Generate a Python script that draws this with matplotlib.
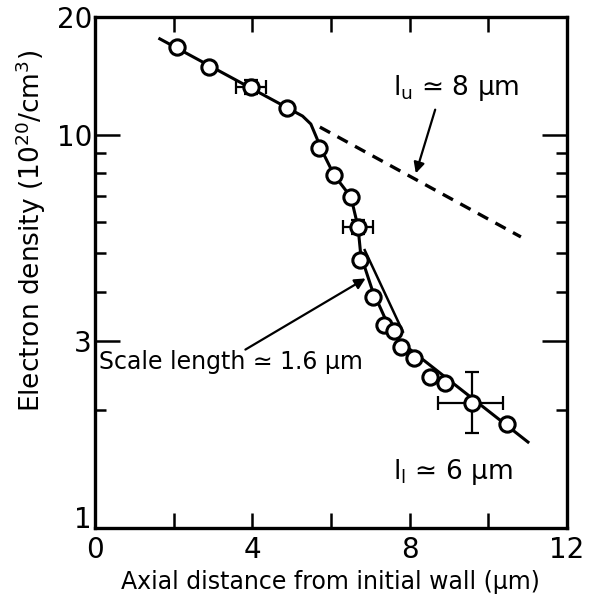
import matplotlib
matplotlib.use("Agg")
import matplotlib.pyplot as plt
from matplotlib.ticker import FixedLocator, NullFormatter

# ---- data ----
pts_x = [2.08, 2.90, 3.97, 4.88, 5.70, 6.08, 6.51, 6.69, 6.74, 7.07, 7.35, 7.60,
         7.78, 8.11, 8.52, 8.90, 9.59, 10.48]
pts_y = [16.8, 14.9, 13.3, 11.7, 9.28, 7.92, 6.96, 5.84, 4.81, 3.87, 3.29, 3.17,
         2.89, 2.71, 2.42, 2.34, 2.08, 1.84]

err_x = [3.97, 6.69, 9.59]
err_y = [13.3, 5.84, 2.08]
err_xlo = [0.37, 0.38, 0.87]
err_xhi = [0.37, 0.38, 0.78]
err_ylo = [0.55, 0.25, 0.335]
err_yhi = [0.55, 0.25, 0.415]

curve_x = [1.65, 5.28, 5.49, 5.64, 5.74, 6.08, 6.51, 6.69, 6.76, 7.05, 7.40, 7.78, 11.01]
curve_y = [17.6, 11.19, 10.68, 9.84, 9.28, 7.92, 6.96, 5.84, 4.95, 4.04, 3.38, 2.97, 1.655]

scale_x = [6.86, 7.83]
scale_y = [5.10, 3.16]

dash_x = [5.72, 10.83]
dash_y = [10.49, 5.51]

xticks_major = [0, 4, 8, 12]
xticks_minor = [2, 6, 10]
yticks_major = [1, 3, 10, 20]
ytick_labels = ["1", "3", "10", "20"]
yticks_minor = [2, 4, 5, 6, 7, 8, 9]

fig = plt.figure(figsize=(5.93, 6.08), dpi=100)
ax = fig.add_axes([0.160, 0.1316, 0.796, 0.8404])
ax.set_yscale("log")
ax.set_xlim(0, 12)
ax.set_ylim(1, 20)

lw = 2.2
ax.plot(curve_x, curve_y, color="black", lw=lw, zorder=2)
ax.plot(scale_x, scale_y, color="black", lw=1.8, zorder=2)
ax.plot(dash_x, dash_y, color="black", lw=2.4, ls=(0, (3.5, 2.5)), zorder=2)

ax.errorbar(err_x, err_y,
            xerr=[err_xlo, err_xhi], yerr=[err_ylo, err_yhi],
            fmt="none", ecolor="black", elinewidth=1.6, capsize=5, capthick=1.6, zorder=3)
ax.plot(pts_x, pts_y, ls="none", marker="o", ms=11, mfc="white", mec="black",
        mew=2.2, zorder=4)

# ticks
ax.xaxis.set_major_locator(FixedLocator(xticks_major))
ax.xaxis.set_minor_locator(FixedLocator(xticks_minor))
ax.yaxis.set_major_locator(FixedLocator(yticks_major))
ax.yaxis.set_minor_locator(FixedLocator(yticks_minor))
ax.set_yticklabels(ytick_labels)
ax.yaxis.set_minor_formatter(NullFormatter())
ax.set_xticklabels([str(v) for v in xticks_major])

ax.tick_params(axis="both", which="both", direction="in", top=True, right=True,
               width=1.8, labelsize=20, pad=3)
ax.tick_params(axis="x", which="both", length=11, pad=6)
ax.tick_params(axis="y", which="major", length=18, pad=2)
ax.tick_params(axis="y", which="minor", length=8)

# lift the "1" label so it does not collide with the "0"
ax.get_yticklabels()[0].set_va("baseline")

for s in ax.spines.values():
    s.set_linewidth(2.4)

ax.set_xlabel("Axial distance from initial wall (\u03bcm)", fontsize=17, labelpad=4)
ax.set_ylabel("Electron density (10$^{20}$/cm$^{3}$)", fontsize=19)
ax.yaxis.set_label_coords(-0.100, 0.581)

# annotations
ax.text(393 / 593, 1 - 88 / 608, "l$_{\\mathrm{u}}$ \u2243 8 \u03bcm", transform=fig.transFigure,
        fontsize=19, va="center", ha="left")
ax.annotate("", xy=(415 / 593, 1 - 176 / 608), xytext=(436 / 593, 1 - 107 / 608),
            xycoords="figure fraction", textcoords="figure fraction",
            arrowprops=dict(arrowstyle="-|>", color="black", lw=1.6, mutation_scale=16))

ax.text(99 / 593, 1 - 362 / 608, "Scale length \u2243 1.6 \u03bcm", transform=fig.transFigure,
        fontsize=17, va="center", ha="left")
ax.annotate("", xy=(368 / 593, 1 - 277 / 608), xytext=(243 / 593, 1 - 351 / 608),
            xycoords="figure fraction", textcoords="figure fraction",
            arrowprops=dict(arrowstyle="-|>", color="black", lw=1.6, mutation_scale=16))

ax.text(393 / 593, 1 - 472 / 608, "l$_{\\mathrm{l}}$ \u2243 6 \u03bcm", transform=fig.transFigure,
        fontsize=19, va="center", ha="left")

fig.savefig("out.png", dpi=100)
